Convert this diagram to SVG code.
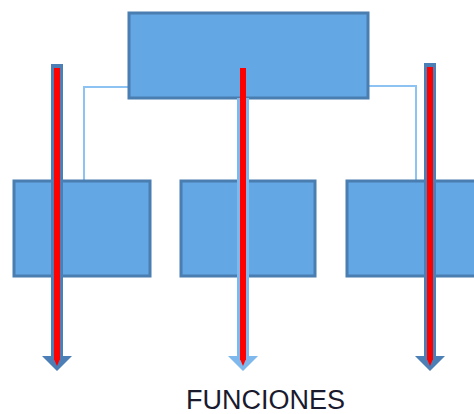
<svg xmlns="http://www.w3.org/2000/svg" width="474" height="414" viewBox="0 0 474 414">
  <style>
    .box { fill: #63a7e5; stroke: #4a7db0; stroke-width: 3; }
    .link { fill: none; stroke: #8cc3f2; stroke-width: 2; }
    .shaft-dark { fill: #4b7fb6; }
    .shaft-light { fill: #7fb8ec; }
    .core { fill: none; stroke: #ff0000; stroke-width: 6; }
    .tip { fill: #ff0000; }
    .label { font-family: "Liberation Sans", Arial, sans-serif; font-size: 27px; fill: #1a1a2e; }
  </style>
  <defs>
    <filter id="soft" x="-50%" y="-5%" width="200%" height="110%">
      <feGaussianBlur stdDeviation="0.7"/>
    </filter>
  </defs>
  <rect width="474" height="414" fill="#ffffff"/>

  <g id="connectors">
    <polyline class="link" points="129,87 84,87 84,180"/>
    <polyline class="link" points="368,86 416,86 416,180"/>
  </g>

  <g id="node-top">
    <rect class="box" x="129" y="13" width="239" height="85"/>
  </g>
  <g id="node-left">
    <rect class="box" x="14" y="181" width="136" height="95"/>
  </g>
  <g id="node-middle">
    <rect class="box" x="181" y="181" width="134" height="95"/>
  </g>
  <g id="node-right">
    <rect class="box" x="347" y="181" width="140" height="95"/>
  </g>

  <g id="arrows" filter="url(#soft)">
    <g id="arrow-left">
      <polygon class="shaft-dark" points="51,64 63,64 63,356 72,356 57,371 42,356 51,356"/>
      <line class="core" x1="57" y1="68" x2="57" y2="360"/>
      <polygon class="tip" points="54,359 60,359 57,366"/>
    </g>
    <g id="arrow-middle">
      <polygon class="shaft-light" points="237,98 249,98 249,356 258,356 243,371 228,356 237,356"/>
      <line class="core" x1="243" y1="68" x2="243" y2="360"/>
      <polygon class="tip" points="240,359 246,359 243,366"/>
    </g>
    <g id="arrow-right">
      <polygon class="shaft-dark" points="424,63 436,63 436,356 445,356 430,371 415,356 424,356"/>
      <line class="core" x1="430" y1="67" x2="430" y2="360"/>
      <polygon class="tip" points="427,359 433,359 430,366"/>
    </g>
  </g>

  <text class="label" x="265.5" y="409" text-anchor="middle">FUNCIONES</text>
</svg>
